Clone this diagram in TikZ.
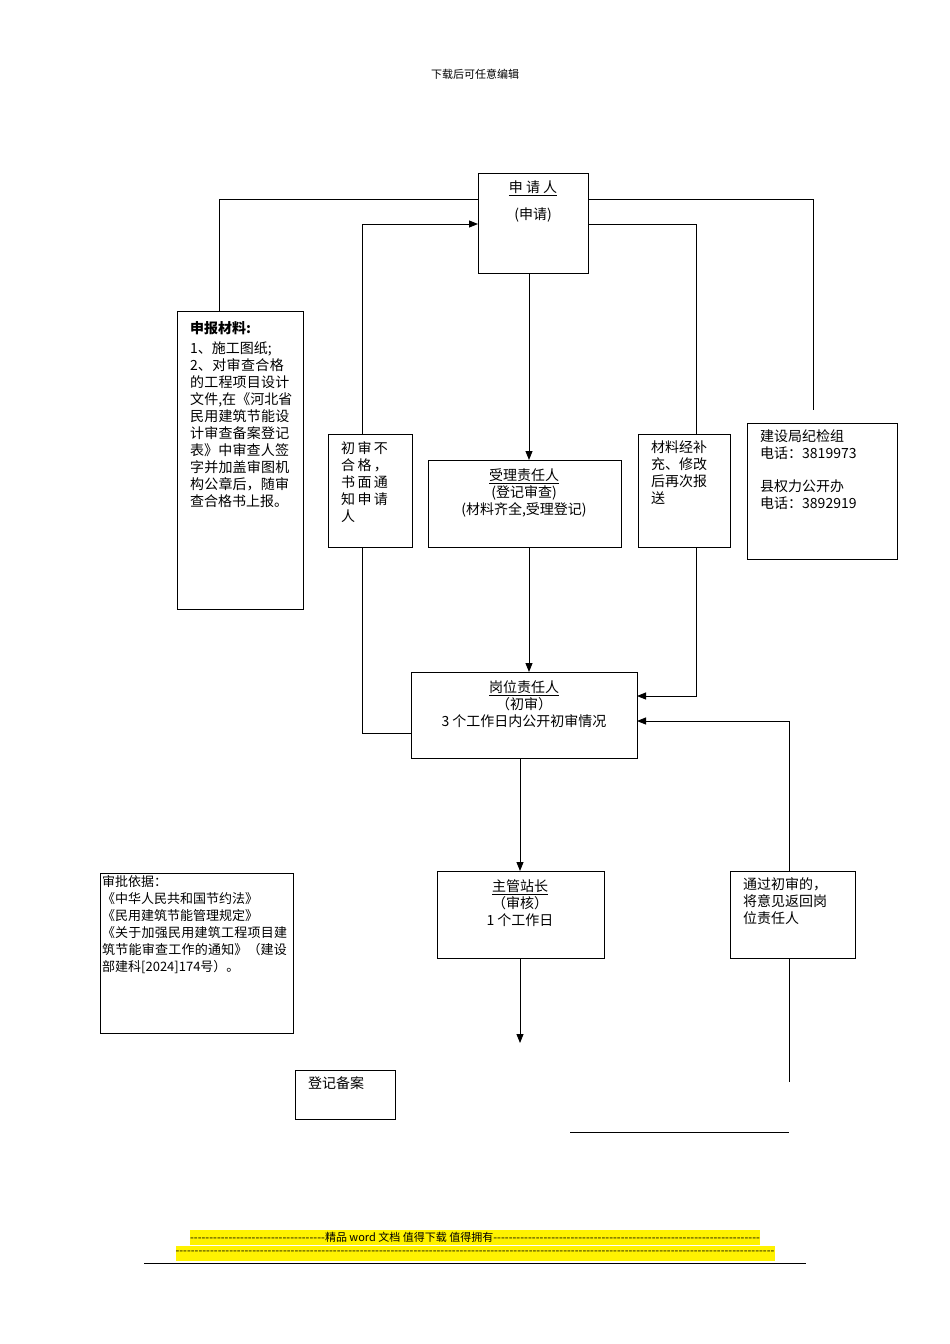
\documentclass[tikz,border=0pt]{standalone}
\usepackage{fontspec}
\setmainfont{Liberation Serif}
\newfontfamily\cjk{Noto Sans CJK SC}
\XeTeXlinebreaklocale "zh"
\XeTeXlinebreakskip=0pt plus 1pt
\usetikzlibrary{arrows.meta}
\begin{document}
\begin{tikzpicture}[x=1pt,y=-1pt,
  box/.style={draw,line width=0.9pt},
  t/.style={font=\cjk\fontsize{14}{17}\selectfont,inner sep=0pt,align=left},
  tc/.style={font=\cjk\fontsize{14}{17}\selectfont,inner sep=0pt,align=center},
  ln/.style={line width=0.9pt},
  ar/.style={line width=0.9pt,-{Triangle[length=9pt,width=7pt]}}]
\path[fill=white,use as bounding box] (0,0) rectangle (950,1344);
\node[font=\cjk\fontsize{11}{12}\selectfont] (hdr) at (475,74) {下载后可任意编辑};
% boxes
\draw[box] (478,173) rectangle (588,273);
\node[tc] (sq1) at (533,188) {\underline{申 请 人}};
\node[tc] (sq2) at (533,215) {(申请)};
\draw[box] (177,311) rectangle (303,609);
\node[t,anchor=north west,text width=104pt] (cl) at (190,321) {\textbf{申报材料:}\\[3pt]1、施工图纸;\\2、对审查合格的工程项目设计文件,在《河北省民用建筑节能设计审查备案登记表》中审查人签字并加盖审图机构公章后，随审查合格书上报。};
\draw[box] (328,434) rectangle (412,547);
\node[t,anchor=north west] (bh) at (341,441) {初\,审\,不\\合\,格\,，\\书\,面\,通\\知\,申\,请\\人};
\draw[box] (428,460) rectangle (621,547);
\node[tc] (sl) at (524,493) {\underline{受理责任人}\\(登记审查)\\(材料齐全,受理登记)};
\draw[box] (638,434) rectangle (730,547);
\node[t,anchor=north west] (bc) at (651,441) {材料经补\\充、修改\\后再次报\\送};
\draw[box] (747,423) rectangle (897,559);
\node[t,anchor=north west] (jj) at (760,429) {建设局纪检组\\电话：3819973\\[16pt]县权力公开办\\电话：3892919};
\draw[box] (411,672) rectangle (637,758);
\node[tc] (gw) at (524,704) {\underline{岗位责任人}\\（初审）\\3 个工作日内公开初审情况};
\draw[box] (437,871) rectangle (604,958);
\node[tc] (zg) at (520,903) {\underline{主管站长}\\（审核）\\1 个工作日};
\draw[box] (730,871) rectangle (855,958);
\node[t,anchor=north west] (tg) at (743,877) {通过初审的，\\将意见返回岗\\位责任人};
\draw[box] (100,873) rectangle (293,1033);
\node[t,anchor=north west,text width=191pt,font=\cjk\fontsize{13}{17}\selectfont] (yj) at (102,875) {审批依据：\\《中华人民共和国节约法》\\《民用建筑节能管理规定》\\《关于加强民用建筑工程项目建筑节能审查工作的通知》（建设部建科[2024]174号）。};
\draw[box] (295,1070) rectangle (395,1119);
\node[t,anchor=north west] (dj) at (308,1076) {登记备案};
% connectors
\coordinate (a1) at (478,199); \coordinate (a2) at (219,311);
\draw[ln] (a1) -| (a2);
\coordinate (b1) at (588,199); \coordinate (b2) at (813,410);
\draw[ln] (b1) -| (b2);
\coordinate (c1) at (362,434); \coordinate (c2) at (478,224);
\draw[ar] (c1) |- (c2);
\coordinate (c3) at (411,733); \coordinate (c4) at (362,547);
\draw[ln] (c3) -| (c4);
\coordinate (d1) at (588,224); \coordinate (d2) at (696,434);
\draw[ln] (d1) -| (d2);
\coordinate (d3) at (696,547); \coordinate (d4) at (637,696);
\draw[ar] (d3) |- (d4);
\coordinate (e1) at (529,273); \coordinate (e2) at (529,460);
\draw[ar] (e1) -- (e2);
\coordinate (e3) at (529,547); \coordinate (e4) at (529,672);
\draw[ar] (e3) -- (e4);
\coordinate (f1) at (520,758); \coordinate (f2) at (520,871);
\draw[ar] (f1) -- (f2);
\coordinate (f3) at (520,958); \coordinate (f4) at (520,1043);
\draw[ar] (f3) -- (f4);
\coordinate (g1) at (789,1082); \coordinate (g2) at (789,958);
\draw[ln] (g1) -- (g2);
\coordinate (g3) at (789,871); \coordinate (g4) at (637,721);
\draw[ar] (g3) |- (g4);
\coordinate (h1) at (570,1132); \coordinate (h2) at (789,1132);
\draw[ln] (h1) -- (h2);
% footer
\fill[yellow] (190,1230) rectangle (760,1245);
\fill[yellow] (176,1246) rectangle (775,1261);
\node[inner sep=0pt,font=\cjk\fontsize{11}{12}\selectfont] (ft1) at (475,1237) {\hbox to 570pt{\hbox to 135pt{\xleaders\hbox{-}\hfill}精品 word 文档 值得下载 值得拥有\xleaders\hbox{-}\hfill}};
\node[inner sep=0pt,font=\cjk\fontsize{11}{12}\selectfont] (ft2) at (475,1253) {\hbox to 599pt{\xleaders\hbox{-}\hfill}};
\coordinate (k1) at (144,1263); \coordinate (k2) at (806,1263);
\draw[ln] (k1) -- (k2);
\end{tikzpicture}
\end{document}
